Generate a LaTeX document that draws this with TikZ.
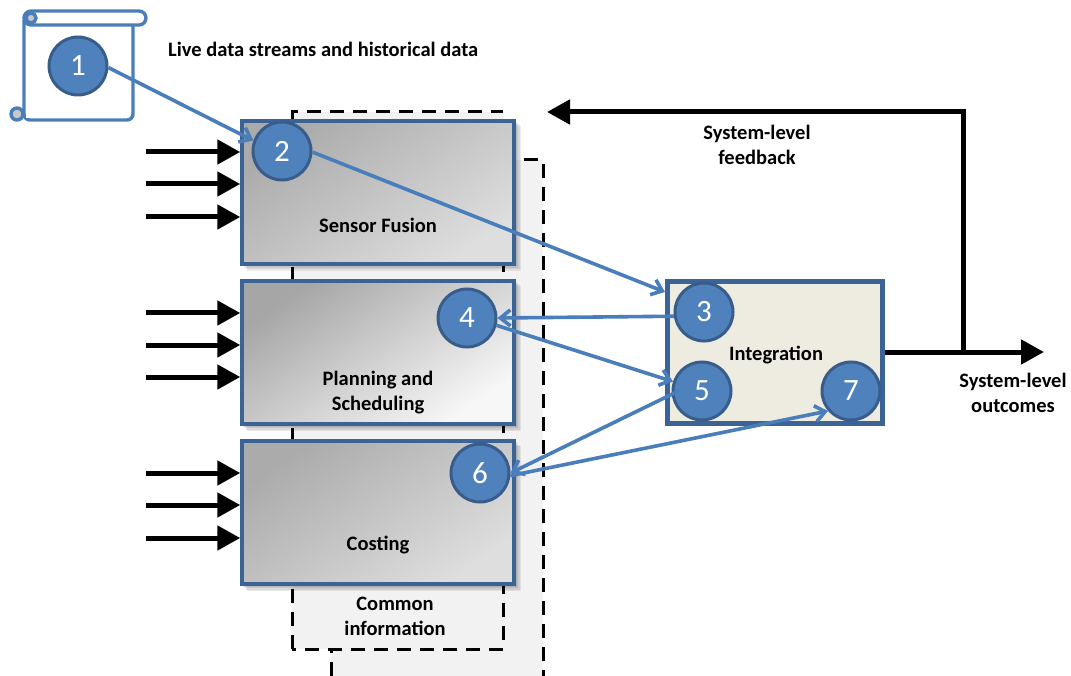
\documentclass[tikz,border=0pt]{standalone}
\usepackage{fontspec}
\setmainfont{Carlito}
\usetikzlibrary{arrows.meta,calc}
\definecolor{blueline}{HTML}{4A7EBB}
\definecolor{circfill}{HTML}{4F81BD}
\definecolor{circline}{HTML}{385D8A}
\definecolor{boxline}{HTML}{3B6396}
\definecolor{sharedgray}{HTML}{F2F2F2}
\definecolor{integfill}{HTML}{EEECE1}
\tikzset{
  num/.style={circle,draw=circline,line width=3pt,fill=circfill,minimum size=58pt,inner sep=0pt,text=white,font=\fontsize{31}{31}\selectfont},
  boxbase/.style={rectangle,draw=boxline,line width=3.5pt,minimum width=272pt,minimum height=143pt,inner sep=0pt},
  darkbox/.style={boxbase,shading=axis,top color=black!33,bottom color=black!13,shading angle=35},
  lightbox/.style={boxbase,shading=axis,top color=black!35,bottom color=black!3,shading angle=35},
  intbox/.style={rectangle,draw=boxline,line width=5pt,fill=integfill,minimum width=215pt,minimum height=142pt,inner sep=0pt},
  lbl/.style={font=\fontsize{20.5}{25}\selectfont\bfseries,align=center,inner sep=0pt,text=black},
  flow/.style={draw=blueline,line width=3.6pt,-{Straight Barb[length=10pt,width=16pt]}},
  feed/.style={draw=black,line width=5pt,-{Triangle[length=23pt,width=24pt]}},
  dashedge/.style={draw=black,line width=3pt,dash pattern=on 14pt off 9pt},
  softshadow/.style={fill=black,opacity=0.08,draw=none},
}
\begin{document}
\begin{tikzpicture}[x=1pt,y=-1pt]
\useasboundingbox (0,0) rectangle (1071,676);
\clip (0,0) rectangle (1071,676);
% shared information areas
\fill[sharedgray] (292,112) -- (503,112) -- (503,160) -- (543,160) -- (543,676) -- (331,676) -- (331,649) -- (292,649) -- cycle;
\draw[dashedge] (292,649) -- (292,112) -- (503,112);
\draw[dashedge] (524,160) -- (543,160) -- (543,676);
\draw[dashedge] (503,120) -- (503,649) -- (292,649);
\draw[dashedge] (331,676) -- (331,649);
% scroll
\begin{scope}[draw=blueline,line width=3.4pt]
  \draw[rounded corners=6pt] (24,20) -- (24,120) -- (133,120) -- (133,20);
  \draw[fill=white,rounded corners=7pt] (24,11) rectangle (146,25);
  \draw[fill=black!22] (17,114) circle (6);
  \draw[fill=black!22] (31,18) circle (5);
\end{scope}
\fill[white] (25.7,108) rectangle (30,118.3);
% shadows
\foreach \d in {1.5,3,4.5,6}{
  \fill[softshadow] (241+\d,120+\d) rectangle (515+\d,265+\d);
  \fill[softshadow] (241+\d,280+\d) rectangle (515+\d,425+\d);
  \fill[softshadow] (241+\d,440+\d) rectangle (515+\d,585+\d);
}
% boxes
\node[darkbox] (fusion) at (378,192.5) {};
\node[lightbox] (plan) at (378,352.5) {};
\node[darkbox] (cost) at (378,512.5) {};
\node[intbox] (integ) at (775,352.5) {};
% feed arrows
\foreach \n/\b/\y in {a/fusion/152,b/fusion/184,c/fusion/217,d/plan/313,e/plan/345,f/plan/377,g/cost/473,h/cost/505,i/cost/538}{
  \coordinate (s\n) at (146,\y);
  \draw[feed] (s\n) -- (\b.west |- s\n);
}
% output and feedback
\coordinate (outend) at (1044,352);
\coordinate (tap) at (963,352);
\coordinate (fbcorner) at (963,112);
\coordinate (fbend) at (547,112);
\draw[feed] (integ.east |- outend) -- (outend);
\draw[feed] (tap) -- (fbcorner) -- (fbend);
% numbered circles
\node[num] (c1) at (78,66) {1};
\node[num] (c2) at (282,151) {2};
\node[num] (c3) at (704,312) {3};
\node[num] (c4) at (467,318) {4};
\node[num] (c5) at (702,391) {5};
\node[num] (c6) at (480,473) {6};
\node[num] (c7) at (851,391) {7};
% connectors
\coordinate (in3) at (665,292);
\draw[flow] (c1.-3) -- (c2.160);
\draw[flow] (c2.-2) -- (in3);
\draw[flow] (c3.188) -- (c4.east);
\draw[flow] (c4.-14) -- (c5.162);
\draw[flow] ([xshift=7pt]c5.west) -- (c6.east);
\draw[flow] (c6.-5) -- (c7.221);
% labels
\node[lbl,anchor=west] (t1) at (168,49.5) {Live data streams and historical data};
\node[lbl] (t2) at (378,225.5) {Sensor Fusion};
\node[lbl] (t3) at (378,393) {Planning and\\Scheduling};
\node[lbl] (t4) at (378,545.5) {Costing};
\node[lbl] (t5) at (776,355.5) {Integration};
\node[lbl] (t6) at (395,616) {Common\\information};
\node[lbl] (t7) at (757,145) {System-level\\feedback};
\node[lbl] (t8) at (1013,393) {System-level\\outcomes};
\end{tikzpicture}
\end{document}
